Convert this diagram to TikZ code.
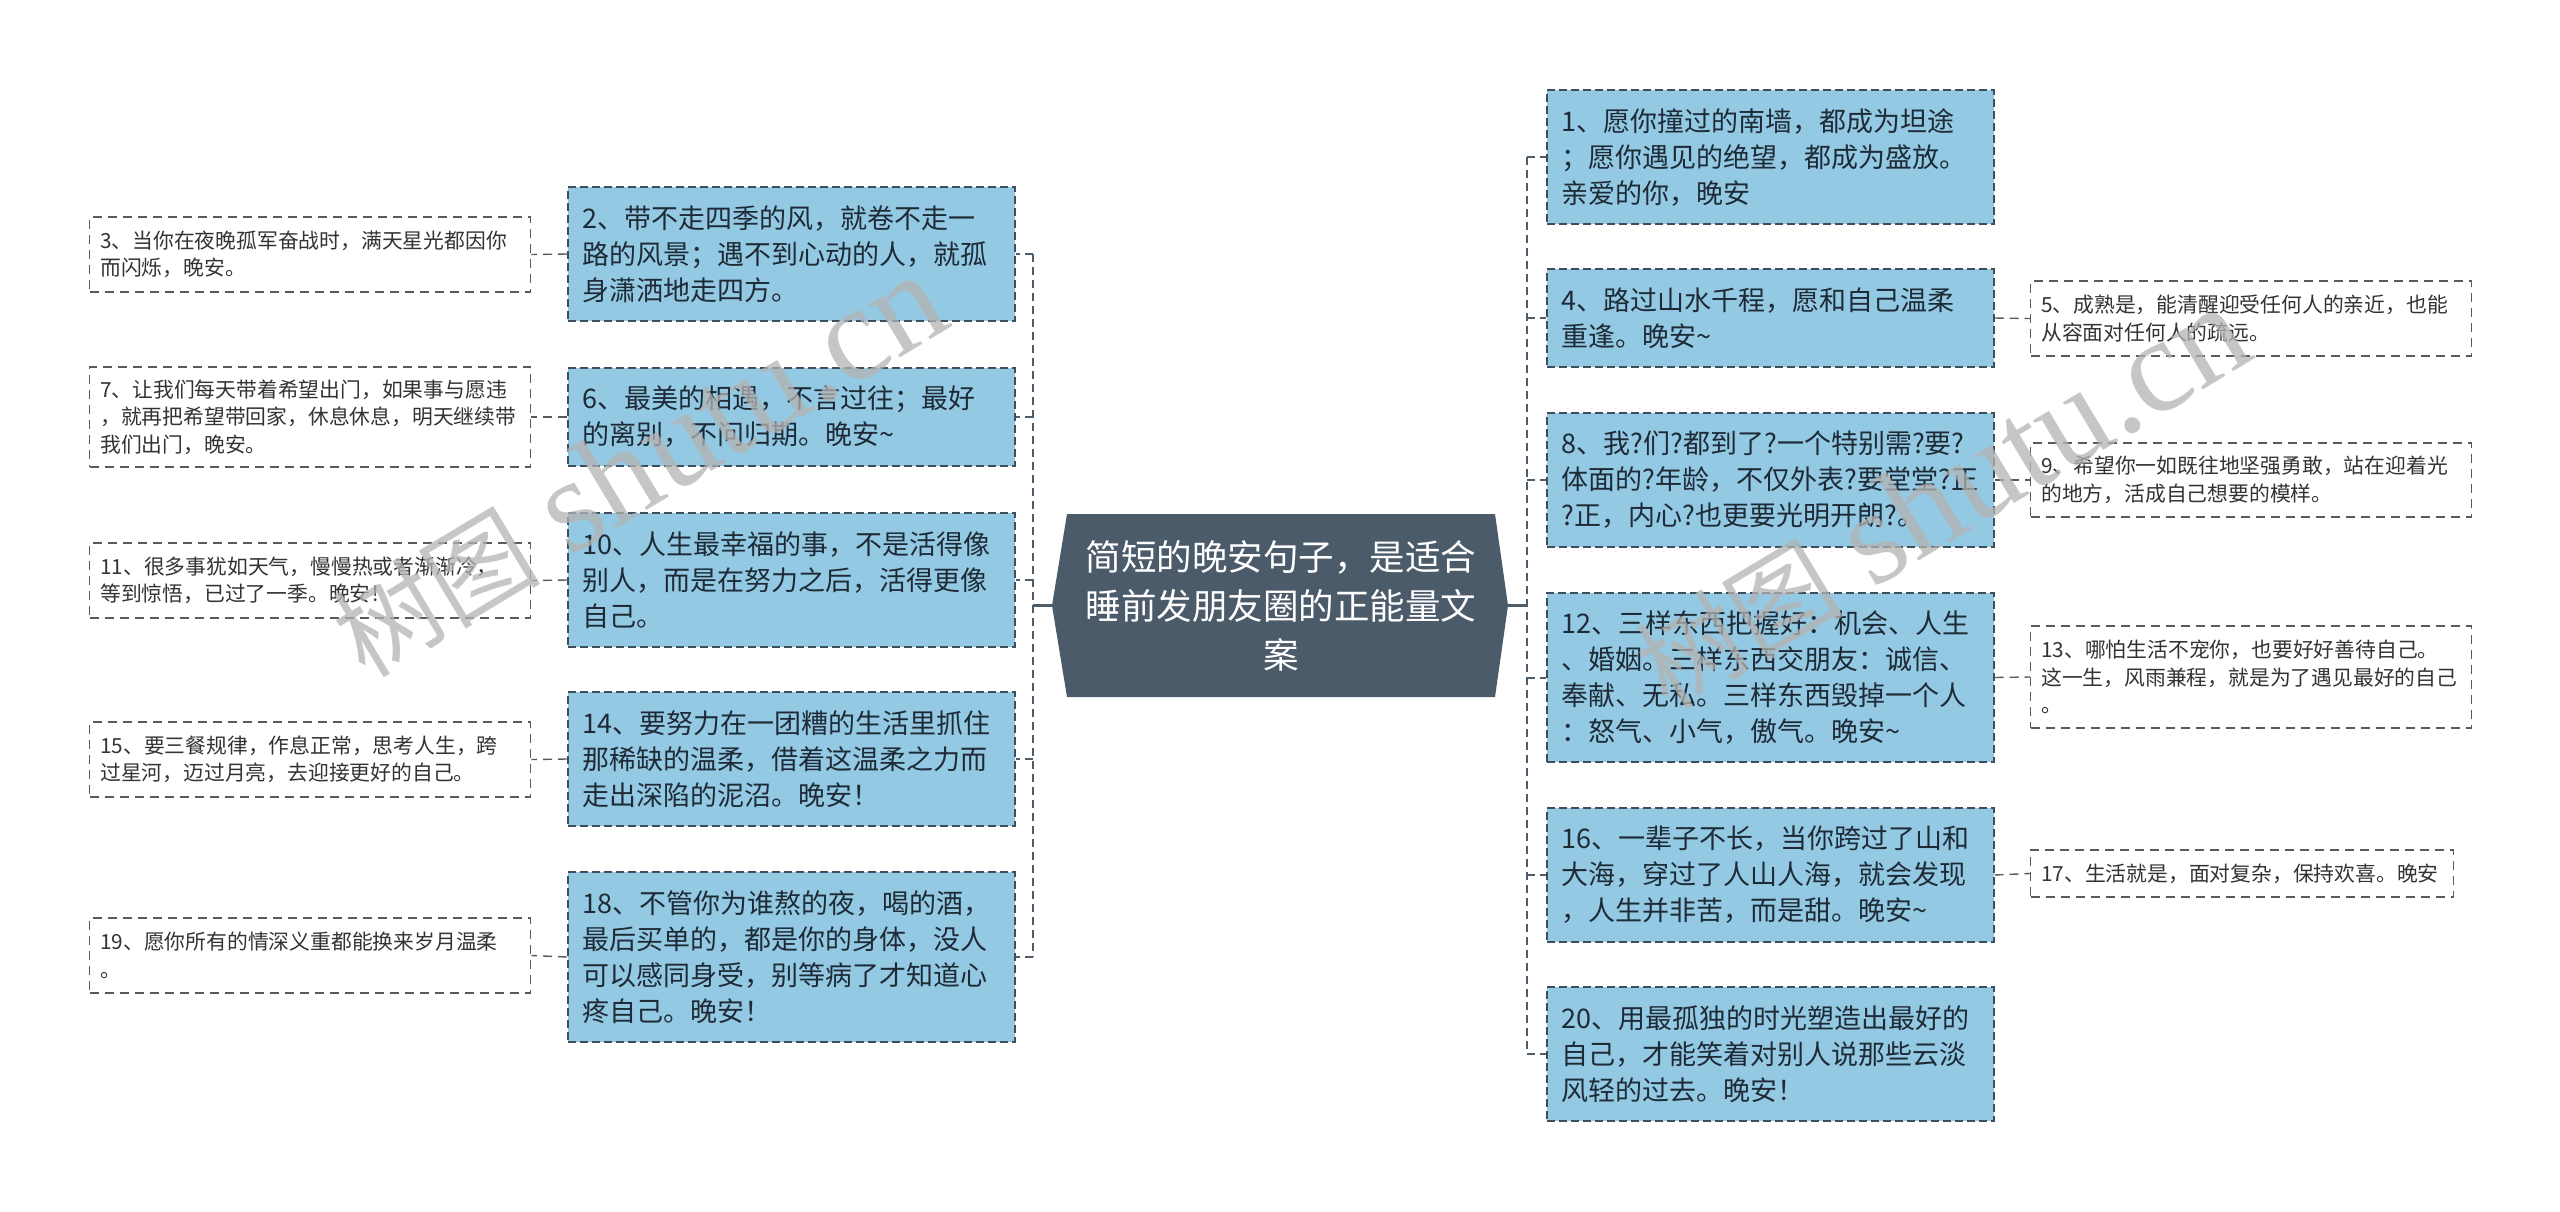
\documentclass[tikz,border=0pt]{standalone}
\usepackage{fontspec}
\setmainfont{Noto Sans CJK SC}
\newfontfamily\wmlatin{Liberation Serif}
\usetikzlibrary{calc}
\definecolor{boxblue}{HTML}{94C9E3}
\definecolor{boxline}{HTML}{3F4E5C}
\definecolor{boxtext}{HTML}{1E2B37}
\definecolor{rootfill}{HTML}{4B5B6A}
\definecolor{leafline}{HTML}{5A5A5A}
\definecolor{leaftext}{HTML}{333333}
\definecolor{trunkcol}{HTML}{4F5D6B}
\definecolor{wmgray}{HTML}{B4B4B4}
\newcommand{\tld}{\textasciitilde}
\begin{document}
\begin{tikzpicture}[x=1pt,y=-1pt,
  l1box/.style={anchor=west, draw=boxline, fill=boxblue, line width=1.5pt,
    dash pattern=on 8pt off 4pt, inner xsep=15pt, inner ysep=0pt,
    text width=417pt, align=left, font=\fontsize{27}{36}\selectfont, text=boxtext},
  l2box/.style={anchor=west, draw=leafline, fill=white, line width=1.4pt,
    dash pattern=on 9pt off 6pt, inner xsep=10.5pt, inner ysep=0pt,
    text width=420pt, align=left, font=\fontsize{20.8}{27.5}\selectfont, text=leaftext},
  trunkline/.style={draw=trunkcol, line width=2.6pt, dash pattern=on 8pt off 5pt},
  twig/.style={draw=trunkcol, line width=2pt, dash pattern=on 8pt off 5pt},
  leaflink/.style={draw=leafline, line width=1.4pt, dash pattern=on 9pt off 6pt},
  rootlink/.style={draw=trunkcol, line width=2.6pt},
  wm/.style={text=wmgray, opacity=0.75, inner sep=0pt, anchor=base west, rotate=31},
]
\useasboundingbox (0,0) rectangle (2560,1211);
\fill[white] (0,0) rectangle (2560,1211);

% root shape
\coordinate (rA) at (1067,514);
\coordinate (rB) at (1495,514);
\coordinate (rC) at (1508,605.5);
\coordinate (rD) at (1495,697);
\coordinate (rE) at (1067,697);
\coordinate (rF) at (1052,605.5);
\fill[rootfill] (rA) -- (rB) -- (rC) -- (rD) -- (rE) -- (rF) -- cycle;
\node[text=white, align=center, inner sep=0pt, font=\fontsize{35.5}{49}\selectfont]
  (root) at (1281,605.5) {简短的晚安句子，是适合\\睡前发朋友圈的正能量文\\案};

% left level 1
\node[l1box, minimum height=134pt] (n2) at (567,254) {2、带不走四季的风，就卷不走一\\路的风景；遇不到心动的人，就孤\\身潇洒地走四方。};
\node[l1box, minimum height=98pt] (n6) at (567,417) {6、最美的相遇，不言过往；最好\\的离别，不问归期。晚安\tld};
\node[l1box, minimum height=134pt] (n10) at (567,580) {10、人生最幸福的事，不是活得像\\别人，而是在努力之后，活得更像\\自己。};
\node[l1box, minimum height=134pt] (n14) at (567,759) {14、要努力在一团糟的生活里抓住\\那稀缺的温柔，借着这温柔之力而\\走出深陷的泥沼。晚安！};
\node[l1box, minimum height=170pt] (n18) at (567,957) {18、不管你为谁熬的夜，喝的酒，\\最后买单的，都是你的身体，没人\\可以感同身受，别等病了才知道心\\疼自己。晚安！};

% left level 2
\node[l2box, minimum height=75pt] (n3) at (89,254.5) {3、当你在夜晚孤军奋战时，满天星光都因你\\而闪烁，晚安。};
\node[l2box, minimum height=100pt] (n7) at (89,417) {7、让我们每天带着希望出门，如果事与愿违\\，就再把希望带回家，休息休息，明天继续带\\我们出门，晚安。};
\node[l2box, minimum height=75pt] (n11) at (89,580.5) {11、很多事犹如天气，慢慢热或者渐渐冷，\\等到惊悟，已过了一季。晚安！};
\node[l2box, minimum height=75pt] (n15) at (89,759.5) {15、要三餐规律，作息正常，思考人生，跨\\过星河，迈过月亮，去迎接更好的自己。};
\node[l2box, minimum height=75pt] (n19) at (89,955.5) {19、愿你所有的情深义重都能换来岁月温柔\\。};

% right level 1
\node[l1box, minimum height=134pt] (n1) at (1546,157) {1、愿你撞过的南墙，都成为坦途\\；愿你遇见的绝望，都成为盛放。\\亲爱的你，晚安};
\node[l1box, minimum height=98pt] (n4) at (1546,318) {4、路过山水千程，愿和自己温柔\\重逢。晚安\tld};
\node[l1box, minimum height=134pt] (n8) at (1546,480) {8、我?们?都到了?一个特别需?要?\\体面的?年龄，不仅外表?要堂堂?正\\?正，内心?也更要光明开朗?。};
\node[l1box, minimum height=169pt] (n12) at (1546,677.5) {12、三样东西把握好：机会、人生\\、婚姻。三样东西交朋友：诚信、\\奉献、无私。三样东西毁掉一个人\\：怒气、小气，傲气。晚安\tld};
\node[l1box, minimum height=134pt] (n16) at (1546,875) {16、一辈子不长，当你跨过了山和\\大海，穿过了人山人海，就会发现\\，人生并非苦，而是甜。晚安\tld};
\node[l1box, minimum height=134pt] (n20) at (1546,1054) {20、用最孤独的时光塑造出最好的\\自己，才能笑着对别人说那些云淡\\风轻的过去。晚安！};

% right level 2
\node[l2box, minimum height=75pt] (n5) at (2030,318.5) {5、成熟是，能清醒迎受任何人的亲近，也能\\从容面对任何人的疏远。};
\node[l2box, minimum height=74pt] (n9) at (2030,480) {9、希望你一如既往地坚强勇敢，站在迎着光\\的地方，活成自己想要的模样。};
\node[l2box, minimum height=102pt] (n13) at (2030,677) {13、哪怕生活不宠你，也要好好善待自己。\\这一生，风雨兼程，就是为了遇见最好的自己\\。};
\node[l2box, minimum height=47pt, text width=402pt] (n17) at (2030,873.5) {17、生活就是，面对复杂，保持欢喜。晚安};

% connectors left
\coordinate (LT) at (1033,605.5);
\draw[rootlink] (rF) -- (LT);
\draw[trunkline] (LT |- n2.east) -- (LT |- n18.east);
\foreach \n in {n2,n6,n10,n14,n18} \draw[twig] (LT |- \n.east) -- (\n.east);
\draw[leaflink] (n2.west) -- (n3.east);
\draw[leaflink] (n6.west) -- (n7.east);
\draw[leaflink] (n10.west) -- (n11.east);
\draw[leaflink] (n14.west) -- (n15.east);
\draw[leaflink] (n18.west) -- (n19.east);

% connectors right
\coordinate (RT) at (1527,605.5);
\draw[rootlink] (rC) -- (RT);
\draw[trunkline] (RT |- n1.west) -- (RT |- n20.west);
\foreach \n in {n1,n4,n8,n12,n16,n20} \draw[twig] (RT |- \n.west) -- (\n.west);
\draw[leaflink] (n4.east) -- (n5.west);
\draw[leaflink] (n8.east) -- (n9.west);
\draw[leaflink] (n12.east) -- (n13.west);
\draw[leaflink] (n16.east) -- (n17.west);

% watermarks
\node[wm] (wm1) at (365,680) {{\fontsize{104}{104}\selectfont 树图}\hspace{30pt}{\wmlatin\fontsize{134}{134}\selectfont shutu.cn}};
\node[wm] (wm2) at (1668,712) {{\fontsize{104}{104}\selectfont 树图}\hspace{30pt}{\wmlatin\fontsize{134}{134}\selectfont shutu.cn}};
\end{tikzpicture}
\end{document}
